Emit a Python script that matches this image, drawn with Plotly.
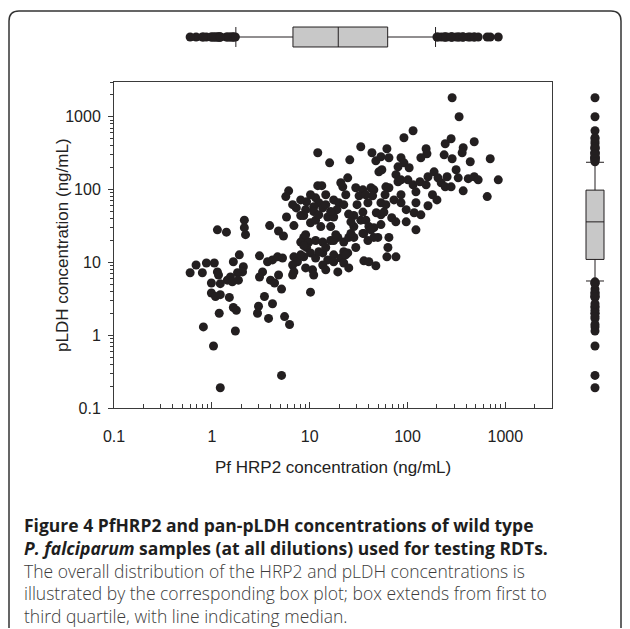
import numpy as np
import plotly.graph_objects as go

# Pf HRP2 concentration (ng/mL)
hrp2 = [12.1, 16.0, 25.7, 12.1, 13.3, 24.5, 6.1, 5.7, 9.3, 11.5, 12.4, 11.0, 14.6, 17.6, 19.8, 22.3, 21.8,
        1.14, 1.41, 2.15, 2.15, 2.21, 3.9, 4.8, 5.4, 5.8, 6.9, 8.1, 8.7, 10.2, 11.5, 13.0, 15.3, 17.6, 16.4,
        8.7, 8.1, 9.8, 11.5, 13.6, 16.4, 19.4, 22.3, 25.1,
        286, 337, 114, 92, 243, 279, 481, 371, 362, 701, 847, 653,
        33.3, 43.3, 61.6, 64.6, 47.5, 53.5, 85.8, 92, 104, 155, 158, 137, 237, 286, 438,
        51, 54.7, 80, 76.2, 20.8, 29.6, 35, 42.3, 45.3, 60.1, 64.6, 80, 85.8, 101, 114, 122, 134, 162, 187,
        205, 254, 221, 243, 314, 330, 418, 481, 528, 279, 371,
        39.4, 53.5, 60.1, 72.7, 85.8, 85.8, 122, 117, 162, 28.3, 33.3, 28.3, 37.5, 40.3, 45.3, 35.8, 53.5,
        57.4, 64.6, 63.1, 49.8, 39.4, 28.3,
        9.3, 6.9, 7.5, 6.7, 6.9, 6.7, 8.7, 10.2, 11.5, 13.6, 15.3, 17.6, 20.8, 24.5, 9.1, 10.7, 11.0, 13.6,
        14.6, 19.4, 22.3, 25.1, 10.2,
        3.07, 3.71, 4.17, 4.7, 5.28, 3.3, 3.07, 3.98, 4.38, 4.81, 5.16,
        1.91, 2.10, 1.66, 2.06, 1.83, 1.55, 1.44, 1.62, 1.87,
        0.69, 0.88, 1.06, 0.60, 0.80, 1.14, 1.17, 0.99, 1.22, 0.99, 1.09, 1.22, 1.51, 1.66, 1.78, 1.19, 0.82,
        1.74, 1.04, 3.45, 3.0, 2.93, 4.17, 3.8, 5.54, 6.23, 5.16, 1.22,
        9.1, 8.7, 17.6, 18.5, 22.3, 17.6, 23.4, 29.6, 26.4, 35, 45.3, 42.3, 61.6, 76.2, 35.8, 40.3, 47.5,
        8.1, 12.4, 14.6,
        10.2, 13.6, 19.0, 25.0, 30.5, 35.0, 44.0, 32.0, 48.0, 69.0, 97.0, 76.0, 97.0, 137, 180, 200, 155,
        16.4, 11.0, 7.3, 23.4, 37.5, 59.0, 26.4, 53.5, 122, 8.1, 9.1, 6.7, 12.4, 14.6]

# pLDH concentration (ng/mL)
pldh = [320, 233, 256, 113, 113, 145, 96, 80, 68, 77, 66, 58, 85, 72, 66, 62, 109,
        28, 26, 38, 30, 24, 32, 27, 23, 42, 32, 44, 44, 35, 38, 31, 42, 42, 31,
        22, 19, 19, 20, 19, 20, 22, 19, 22,
        1820, 1000, 643, 515, 426, 499, 453, 375, 320, 265, 136, 80,
        387, 320, 363, 273, 248, 282, 273, 233, 199, 363, 310, 273, 300, 265, 241,
        175, 187, 205, 160, 124, 106, 99, 106, 99, 109, 106, 128, 136, 136, 116, 93, 128, 150, 175,
        145, 150, 124, 109, 187, 145, 141, 150, 136, 109, 96,
        66, 66, 62, 72, 85, 66, 66, 48, 60, 44, 38, 31, 38, 31, 30, 25, 45,
        49, 22, 16, 22, 20, 22,
        16, 11.9, 10.2, 9.2, 7.4, 6.7, 11.9, 13.5, 11.5, 13.5, 10.8, 12.7, 11.5, 13.5, 8.4, 7.9, 6.7, 9.2,
        7.9, 7.4, 9.8, 8.4, 3.9,
        12.3, 10.2, 10.8, 11.9, 11.5, 7.4, 6.3, 5.7, 5.2, 6.7, 4.3,
        12.7, 8.7, 10.2, 7.4, 7.2, 6.3, 5.7, 5.4, 5.7,
        9.2, 9.8, 9.8, 7.2, 7.2, 7.4, 6.7, 5.2, 5.1, 3.8, 3.4, 3.6, 3.3, 2.4, 2.2, 2.0, 1.3,
        1.14, 0.71, 3.4, 2.5, 2.0, 2.7, 1.7, 1.8, 1.4, 0.28, 0.19,
        24, 17, 20, 24, 14, 10.2, 12.7, 16, 25, 25, 22, 28, 11.9, 11.9, 10.5, 10.2, 9.0,
        12.7, 14, 16,
        85, 56, 53, 46, 62, 49, 82, 82, 48, 41, 53, 36, 36, 45, 85, 72, 116,
        50, 50, 56, 85, 85, 85, 36, 33, 28, 72, 53, 62, 45, 62]

x_tick_vals = [0.1, 1, 10, 100, 1000]
x_tick_text = ["0.1", "1", "10", "100", "1000"]
y_tick_vals = [0.1, 1, 10, 100, 1000]
y_tick_text = ["0.1", "1", "10", "100", "1000"]

x_title = "Pf HRP2 concentration (ng/mL)"
y_title = "pLDH concentration (ng/mL)"
caption_bold = ["Figure 4 PfHRP2 and pan-pLDH concentrations of wild type",
                "<i>P. falciparum</i> samples (at all dilutions) used for testing RDTs."]
caption_lines = ["The overall distribution of the HRP2 and pLDH concentrations is",
                 "illustrated by the corresponding box plot; box extends from first to",
                 "third quartile, with line indicating median."]

W, H = 630, 629
def px(x):
    return x / W
def py(y):
    return 1 - y / H

DARK = "#231f20"
BOXFILL = "#c8c8c8"
AXC = "#3a3a3a"

hx = np.array(hrp2, dtype=float)
ly = np.array(pldh, dtype=float)

def stats(a):
    p10, q1, med, q3, p90 = np.percentile(a, [10, 25, 50, 75, 90])
    return p10, q1, med, q3, p90

xs = stats(hx)
ys = stats(ly)

fig = go.Figure()

fig.add_trace(go.Scatter(x=hrp2, y=pldh, mode="markers",
                         marker=dict(size=9, color=DARK, line=dict(width=0)),
                         xaxis="x", yaxis="y", showlegend=False, hoverinfo="x+y"))

# top box plot (HRP2)
fig.add_trace(go.Box(y=[0], q1=[xs[1]], median=[xs[2]], q3=[xs[3]],
                     lowerfence=[xs[0]], upperfence=[xs[4]], orientation="h",
                     xaxis="x", yaxis="y2", fillcolor=BOXFILL,
                     line=dict(color=DARK, width=1), whiskerwidth=1, width=1.33,
                     boxpoints=False, showlegend=False))
out_x = [v for v in hrp2 if v < xs[0] or v > xs[4]]
fig.add_trace(go.Scatter(x=out_x, y=[0] * len(out_x), mode="markers",
                         marker=dict(size=9, color=DARK), xaxis="x", yaxis="y2",
                         showlegend=False))

# right box plot (pLDH)
fig.add_trace(go.Box(x=[0], q1=[ys[1]], median=[ys[2]], q3=[ys[3]],
                     lowerfence=[ys[0]], upperfence=[ys[4]], orientation="v",
                     xaxis="x3", yaxis="y", fillcolor=BOXFILL,
                     line=dict(color=DARK, width=1), whiskerwidth=1, width=1.2,
                     boxpoints=False, showlegend=False))
out_y = [v for v in pldh if v < ys[0] or v > ys[4]]
fig.add_trace(go.Scatter(x=[0] * len(out_y), y=out_y, mode="markers",
                         marker=dict(size=9, color=DARK), xaxis="x3", yaxis="y",
                         showlegend=False))

axis_font = dict(family="Liberation Sans, Arial, sans-serif", size=16, color="#222")

fig.update_layout(
    width=W, height=H,
    margin=dict(l=0, r=0, t=0, b=0, autoexpand=False),
    paper_bgcolor="white", plot_bgcolor="white",
    font=axis_font,
    xaxis=dict(type="log", domain=[px(114), px(552)], range=[-1, np.log10(3000)],
               tickvals=x_tick_vals, ticktext=x_tick_text, ticks="inside", ticklen=6,
               tickcolor=AXC, tickfont=axis_font, ticklabelstandoff=14,
               minor=dict(ticks="inside", ticklen=4, tickcolor=AXC, dtick="D1", showgrid=False),
               showline=True, linecolor=AXC, linewidth=1, mirror=True, automargin=False,
               showgrid=False, zeroline=False, anchor="y"),
    yaxis=dict(type="log", domain=[py(408), py(82)], range=[-1, np.log10(3000)],
               tickvals=y_tick_vals, ticktext=y_tick_text, ticks="outside", ticklen=5,
               tickcolor=AXC, tickfont=axis_font, ticklabelstandoff=4,
               minor=dict(ticks="outside", ticklen=3, tickcolor=AXC, dtick="D1", showgrid=False),
               showline=True, linecolor=AXC, linewidth=1, mirror=True, automargin=False,
               showgrid=False, zeroline=False, anchor="x"),
    yaxis2=dict(domain=[py(52), py(22)], range=[-1, 1], visible=False, anchor="x", automargin=False),
    xaxis3=dict(domain=[px(580), px(610)], range=[-1, 1], visible=False, anchor="y", automargin=False),
)

ann = []
ann.append(dict(text=x_title, x=px(333), y=py(467), xref="paper", yref="paper",
                showarrow=False, font=dict(family="Liberation Sans, Arial, sans-serif", size=17, color="#222"),
                xanchor="center", yanchor="middle"))
ann.append(dict(text=y_title, x=px(62), y=py(245), xref="paper", yref="paper", textangle=-90,
                showarrow=False, font=dict(family="Liberation Sans, Arial, sans-serif", size=17, color="#222"),
                xanchor="center", yanchor="middle"))

caption_html = "<br>".join(
    [f"<span style='color:#1e1e1e'><b>{t}</b></span>" for t in caption_bold] + caption_lines)
ann.append(dict(text=caption_html, x=px(22), y=py(511), xref="paper", yref="paper",
                showarrow=False, align="left", xanchor="left", yanchor="top",
                font=dict(family="Open Sans, sans-serif", size=17.5, color="#3c3c3c", weight=300)))
fig.update_layout(annotations=ann)

# rounded outer frame
x0, y0, x1, y1, r = 9, 11, 621, 628, 10
path = (f"M {px(x0)},{py(y0 + r)} L {px(x0)},{py(y1)} "
        f"M {px(x0)},{py(y0 + r)} Q {px(x0)},{py(y0)} {px(x0 + r)},{py(y0)} "
        f"L {px(x1 - r)},{py(y0)} Q {px(x1)},{py(y0)} {px(x1)},{py(y0 + r)} L {px(x1)},{py(y1)}")
fig.add_shape(type="path", path=path, xref="paper", yref="paper",
              line=dict(color="#333", width=1.5))

fig.write_html("out.html", config={"displayModeBar": False},
               post_script="document.body.style.margin='0px';")
